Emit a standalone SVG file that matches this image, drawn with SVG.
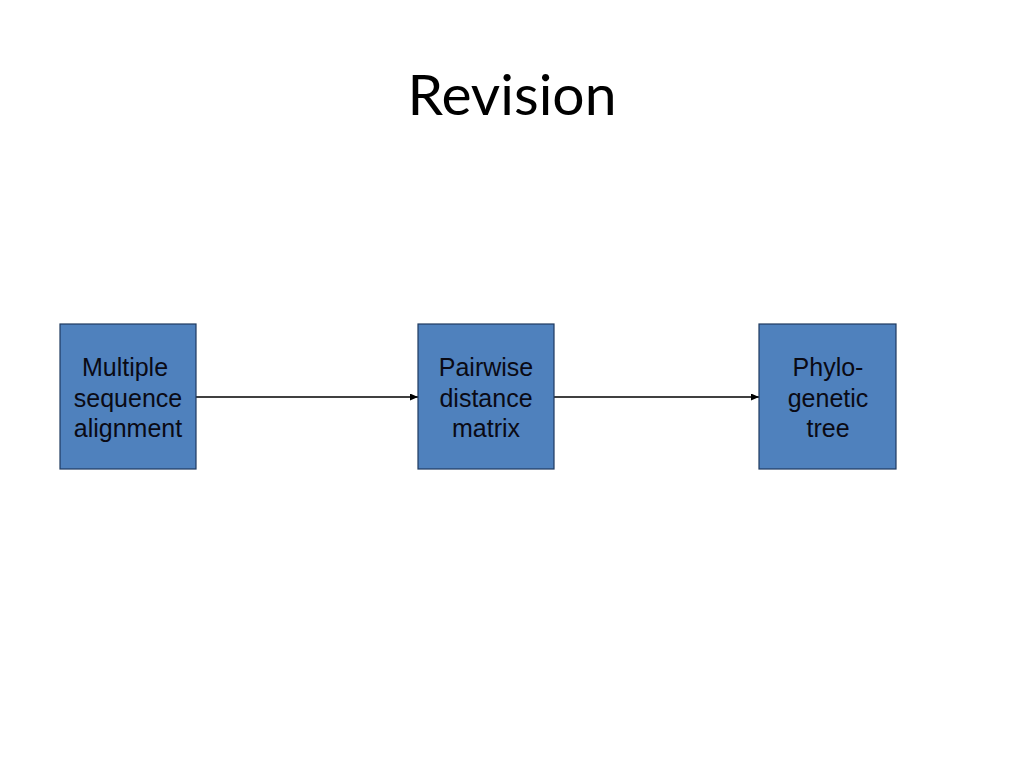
<svg xmlns="http://www.w3.org/2000/svg" width="1024" height="768" viewBox="0 0 1024 768">
<defs>
<style>
.box{fill:#4F81BD;stroke:#1F3A5F;stroke-width:1.2}
.lbl{font-family:"Liberation Sans",Arial,sans-serif;font-size:25px;fill:#0a0a14;text-anchor:middle}
.title{font-family:Lato,"Open Sans",sans-serif;font-size:57px;fill:#000;text-anchor:middle}
.conn{stroke:#000;stroke-width:1.3;fill:none;marker-end:url(#arr)}
</style>
<marker id="arr" viewBox="0 0 10 10" refX="10" refY="5" markerWidth="8" markerHeight="7" markerUnits="userSpaceOnUse" orient="auto" preserveAspectRatio="none">
<path d="M0,0 L10,5 L0,10 z" fill="#000"/>
</marker>
</defs>
<rect width="1024" height="768" fill="#fff"/>
<text class="title" x="512" y="115">Revision</text>
<g id="connectors">
<line class="conn" x1="196" y1="397" x2="418" y2="397"/>
<line class="conn" x1="554" y1="397" x2="759" y2="397"/>
</g>
<g id="msa">
<rect class="box" x="60" y="324" width="136" height="145"/>
<text class="lbl" x="125" y="376">Multiple</text>
<text class="lbl" x="128" y="407">sequence</text>
<text class="lbl" x="128" y="437">alignment</text>
</g>
<g id="pdm">
<rect class="box" x="418" y="324" width="136" height="145"/>
<text class="lbl" x="486" y="376">Pairwise</text>
<text class="lbl" x="486" y="407">distance</text>
<text class="lbl" x="486" y="437">matrix</text>
</g>
<g id="tree">
<rect class="box" x="759" y="324" width="137" height="145"/>
<text class="lbl" x="828" y="376">Phylo-</text>
<text class="lbl" x="828" y="407">genetic</text>
<text class="lbl" x="828" y="437">tree</text>
</g>
</svg>
